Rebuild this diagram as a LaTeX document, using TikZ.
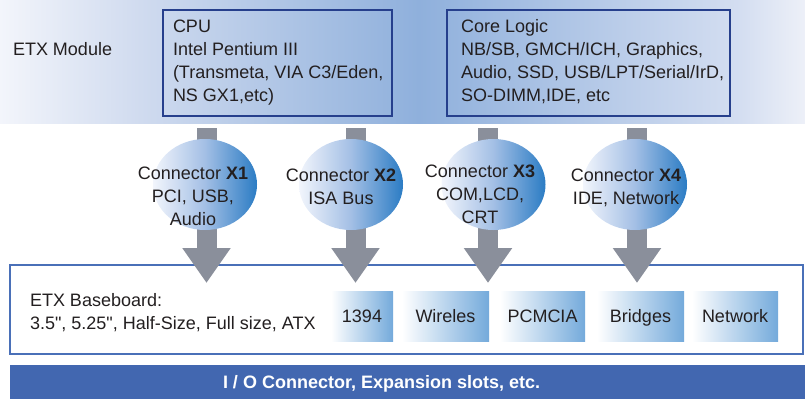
\documentclass[tikz,border=0pt]{standalone}
\usepackage{fontspec}
\setmainfont{Liberation Sans}
\newfontfamily\plainsans{Liberation Sans}
\usetikzlibrary{arrows.meta,shapes.geometric}
\definecolor{bandA}{HTML}{F3F5FB}
\definecolor{bandB}{HTML}{D0DBEF}
\definecolor{bandC}{HTML}{8FB0DC}
\definecolor{bandD}{HTML}{D4DEF1}
\definecolor{bandE}{HTML}{EDF0F8}
\definecolor{ballA}{HTML}{F2F5FC}
\definecolor{ballB}{HTML}{A3BFE5}
\definecolor{ballC}{HTML}{2B7CC4}
\definecolor{navy}{HTML}{263F8C}
\definecolor{bbblue}{HTML}{4A70B8}
\definecolor{arrowgray}{HTML}{8A8F9B}
\definecolor{iobar}{HTML}{4267B0}
\definecolor{slotblue}{HTML}{74AADB}
\definecolor{txt}{HTML}{231F20}
\pgfdeclarehorizontalshading{bandshade}{100bp}{color(0bp)=(bandA); color(25bp)=(bandA); color(33.7bp)=(bandB); color(51bp)=(bandC); color(71bp)=(bandD); color(75bp)=(bandE); color(100bp)=(bandE)}
\pgfdeclarehorizontalshading{ballshade}{100bp}{color(0bp)=(ballA); color(25bp)=(ballA); color(50bp)=(ballB); color(75bp)=(ballC); color(100bp)=(ballC)}
\tikzset{
  every node/.style={font=\fontsize{18}{23}\selectfont, inner sep=0pt, outer sep=0pt, text=txt},
  modbox/.style={draw=navy, line width=2pt, rectangle},
  ball/.style={ellipse, shading=ballshade, minimum width=104pt, minimum height=91pt},
  slot/.style={rectangle, left color=white, right color=slotblue, minimum height=50pt, text height=12.9pt, text depth=0pt},
  bigarrow/.style={draw=arrowgray, line width=20pt, -{Triangle[width=46pt,length=35pt]}},
}
\newcommand{\dq}{{\plainsans"}}
\begin{document}
\begin{tikzpicture}[x=1pt,y=-1pt]
\useasboundingbox (0,0) rectangle (805,399);
% top band
\shade[shading=bandshade] (0,0) rectangle (805,123);
\node[anchor=west] (etxmod) at (13,49) {ETX Module};
\node[modbox, minimum width=229pt, minimum height=106pt] (cpu) at (277.5,63) {};
\node[anchor=north west, align=left] (cputxt) at (173,19.5) {CPU\\Intel Pentium III\\(Transmeta, VIA C3/Eden,\\NS GX1,etc)};
\node[modbox, minimum width=283pt, minimum height=106pt] (core) at (588.5,63) {};
\node[anchor=north west, align=left] (coretxt) at (461,19.5) {Core Logic\\NB/SB, GMCH/ICH, Graphics,\\Audio, SSD, USB/LPT/Serial/IrD,\\SO-DIMM,IDE, etc};
% baseboard
\node[draw=bbblue, line width=2pt, fill=white, minimum width=793pt, minimum height=89pt] (base) at (406.5,309.5) {};
\node[anchor=north west, align=left] (basetxt) at (30,293.5) {ETX Baseboard:\\3.5\dq, 5.25\dq, Half-Size, Full size, ATX};
\node[slot, minimum width=62pt] (s1) at (362,316) {1394};
\node[slot, minimum width=87pt] (s2) at (445.5,316) {Wireles};
\node[slot, minimum width=85pt] (s3) at (542.5,316) {PCMCIA};
\node[slot, minimum width=87pt] (s4) at (640.5,316) {Bridges};
\node[slot, minimum width=86pt] (s5) at (735,316) {Network};
% arrows
\coordinate (a1top) at (206.5,128); \coordinate (a1tip) at (206.5,283);
\coordinate (a2top) at (355.5,128); \coordinate (a2tip) at (355.5,283);
\coordinate (a3top) at (488,128);   \coordinate (a3tip) at (488,283);
\coordinate (a4top) at (637,128);   \coordinate (a4tip) at (637,283);
\draw[bigarrow] (a1top) -- (a1tip);
\draw[bigarrow] (a2top) -- (a2tip);
\draw[bigarrow] (a3top) -- (a3tip);
\draw[bigarrow] (a4top) -- (a4tip);
% connector balls
\node[ball] (c1) at (205,184.5) {};
\node[ball] (c2) at (351,184.5) {};
\node[ball] (c3) at (493.5,184.5) {};
\node[ball] (c4) at (635,184.5) {};
\node[align=center] (t1) at (193,196) {Connector \textbf{X1}\\PCI, USB,\\Audio};
\node[align=center] (t2) at (341,186.5) {Connector \textbf{X2}\\ISA Bus};
\node[align=center] (t3) at (480,194) {Connector \textbf{X3}\\COM,LCD,\\CRT};
\node[align=center] (t4) at (626,188) {Connector \textbf{X4}\\IDE, Network};
% bottom bar
\node[fill=iobar, minimum width=795pt, minimum height=34pt] (io) at (407.5,382) {};
\node[anchor=west, text=white, font=\fontsize{18}{23}\selectfont\bfseries] (iotxt) at (223,383.5) {I / O Connector, Expansion slots, etc.};
\end{tikzpicture}
\end{document}
